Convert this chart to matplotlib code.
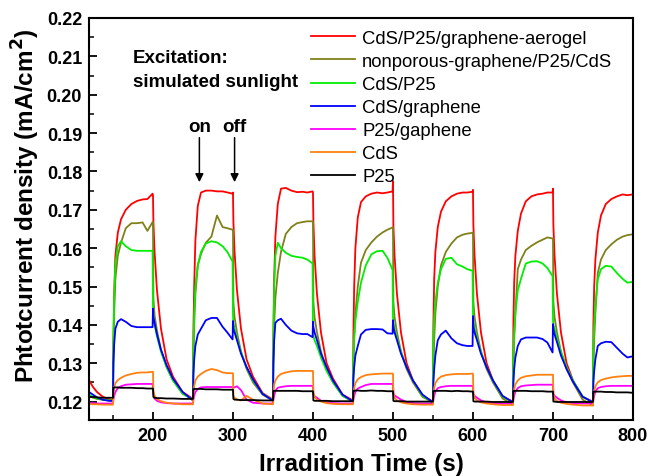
import numpy as np
import matplotlib
matplotlib.use('Agg')
import matplotlib.pyplot as plt

plt.rcParams['font.family'] = ['Liberation Sans', 'DejaVu Sans']

# light on times (s), light stays on 50 s, off 50 s
t_on = [150, 250, 350, 450, 550, 650, 750]
pre_t = [120, 125, 130, 137, 145]
on_grid = [0, 0.5, 1.5, 3, 6, 10, 16, 23, 30, 37, 43, 49.5]
off_grid = [50, 50.5, 52, 55, 60, 67, 75, 87]

labels = ['CdS/P25/graphene-aerogel', 'nonporous-graphene/P25/CdS', 'CdS/P25',
          'CdS/graphene', 'P25/gaphene', 'CdS', 'P25']
colors = ['#ff0000', '#80801a', '#00ee00', '#0000ff', '#ff00ff', '#ff8010', '#000000']

# values (mA/cm2), one row per light cycle
red_pre = [0.1256, 0.1238, 0.1225, 0.1213, 0.1206]
red = [
    [0.1203, 0.135, 0.148, 0.158, 0.164, 0.1675, 0.170, 0.1715, 0.1723, 0.1727, 0.1728, 0.1742, 0.1738, 0.167, 0.159, 0.149, 0.139, 0.131, 0.1265, 0.1225],
    [0.1207, 0.138, 0.150, 0.162, 0.171, 0.1745, 0.175, 0.175, 0.1748, 0.1748, 0.1745, 0.1742, 0.1745, 0.167, 0.159, 0.149, 0.139, 0.131, 0.1265, 0.1222],
    [0.1205, 0.138, 0.152, 0.163, 0.1715, 0.1755, 0.1757, 0.175, 0.1746, 0.1747, 0.1745, 0.1748, 0.1745, 0.167, 0.158, 0.148, 0.138, 0.130, 0.126, 0.1218],
    [0.1203, 0.137, 0.150, 0.160, 0.168, 0.172, 0.1735, 0.1742, 0.1745, 0.1743, 0.1745, 0.1748, 0.1775, 0.166, 0.158, 0.148, 0.138, 0.130, 0.1255, 0.1215],
    [0.1200, 0.140, 0.152, 0.159, 0.1655, 0.1695, 0.1722, 0.1735, 0.1742, 0.1745, 0.1745, 0.1747, 0.1752, 0.166, 0.158, 0.148, 0.138, 0.130, 0.1255, 0.1213],
    [0.1200, 0.140, 0.151, 0.158, 0.1645, 0.169, 0.1722, 0.1735, 0.174, 0.1742, 0.1745, 0.1745, 0.1755, 0.166, 0.158, 0.148, 0.138, 0.130, 0.1255, 0.1212],
    [0.1200, 0.140, 0.150, 0.157, 0.164, 0.1685, 0.1715, 0.1728, 0.1735, 0.174, 0.1738, 0.1740],
]

olive_pre = [0.1215, 0.121, 0.1207, 0.1205, 0.1203]
olive = [
    [0.1202, 0.132, 0.143, 0.152, 0.158, 0.1614, 0.1652, 0.1665, 0.1665, 0.1667, 0.1645, 0.1668, 0.1668, 0.147, 0.1425, 0.1385, 0.1335, 0.129, 0.1255, 0.1222],
    [0.1205, 0.130, 0.140, 0.148, 0.1555, 0.1585, 0.1614, 0.163, 0.1685, 0.1655, 0.1652, 0.1648, 0.1648, 0.146, 0.142, 0.138, 0.133, 0.1285, 0.125, 0.1218],
    [0.1203, 0.130, 0.140, 0.147, 0.1535, 0.159, 0.1637, 0.1655, 0.1665, 0.1668, 0.167, 0.167, 0.167, 0.146, 0.142, 0.138, 0.133, 0.1285, 0.125, 0.1215],
    [0.1200, 0.128, 0.136, 0.143, 0.150, 0.1562, 0.1595, 0.1615, 0.163, 0.1641, 0.1648, 0.1654, 0.1654, 0.146, 0.142, 0.138, 0.133, 0.1285, 0.125, 0.1212],
    [0.1198, 0.128, 0.136, 0.143, 0.150, 0.1555, 0.159, 0.1612, 0.1628, 0.1635, 0.1638, 0.164, 0.164, 0.146, 0.142, 0.138, 0.133, 0.1285, 0.125, 0.1208],
    [0.1192, 0.128, 0.136, 0.143, 0.1545, 0.157, 0.1595, 0.1606, 0.1615, 0.1622, 0.1628, 0.1625, 0.1625, 0.146, 0.142, 0.138, 0.133, 0.1285, 0.125, 0.1205],
    [0.1190, 0.128, 0.136, 0.143, 0.1535, 0.157, 0.1595, 0.161, 0.1622, 0.163, 0.1634, 0.1636],
]

green_pre = [0.1218, 0.1212, 0.1208, 0.1205, 0.1203]
green = [
    [0.1203, 0.135, 0.148, 0.156, 0.1605, 0.1618, 0.1605, 0.1595, 0.1593, 0.1593, 0.1593, 0.1593, 0.145, 0.1425, 0.140, 0.137, 0.133, 0.129, 0.1255, 0.122],
    [0.1205, 0.132, 0.143, 0.150, 0.1555, 0.159, 0.1612, 0.1618, 0.1615, 0.1605, 0.159, 0.1565, 0.1425, 0.1405, 0.139, 0.1365, 0.133, 0.129, 0.1255, 0.122],
    [0.1203, 0.136, 0.150, 0.158, 0.1614, 0.160, 0.1588, 0.158, 0.1577, 0.1575, 0.157, 0.156, 0.1375, 0.137, 0.136, 0.1345, 0.1315, 0.128, 0.125, 0.1215],
    [0.1200, 0.131, 0.137, 0.141, 0.146, 0.151, 0.1555, 0.1584, 0.1592, 0.1593, 0.1575, 0.1543, 0.142, 0.1405, 0.139, 0.1365, 0.133, 0.129, 0.1255, 0.1215],
    [0.1198, 0.136, 0.142, 0.146, 0.151, 0.1545, 0.1572, 0.1575, 0.1558, 0.1552, 0.1545, 0.1541, 0.143, 0.141, 0.139, 0.1365, 0.133, 0.129, 0.1255, 0.1213],
    [0.1198, 0.132, 0.138, 0.143, 0.149, 0.152, 0.156, 0.1565, 0.1566, 0.156, 0.1548, 0.1527, 0.1415, 0.140, 0.139, 0.1365, 0.133, 0.129, 0.1255, 0.1213],
    [0.1198, 0.134, 0.140, 0.145, 0.1519, 0.1545, 0.1554, 0.1552, 0.1535, 0.152, 0.151, 0.1512],
]

blue_pre = [0.1225, 0.1218, 0.1211, 0.1205, 0.1202]
blue = [
    [0.1202, 0.130, 0.135, 0.139, 0.1408, 0.1415, 0.1408, 0.1397, 0.1394, 0.1394, 0.1394, 0.1394, 0.1442, 0.142, 0.1405, 0.1375, 0.1335, 0.1295, 0.126, 0.1225],
    [0.1203, 0.127, 0.131, 0.1345, 0.1375, 0.139, 0.1412, 0.1418, 0.1418, 0.1395, 0.138, 0.1362, 0.141, 0.139, 0.138, 0.136, 0.1325, 0.129, 0.1258, 0.122],
    [0.1202, 0.130, 0.136, 0.1405, 0.1412, 0.1416, 0.140, 0.1385, 0.1378, 0.1376, 0.1376, 0.1368, 0.1408, 0.1395, 0.138, 0.136, 0.1325, 0.129, 0.1255, 0.1218],
    [0.1200, 0.126, 0.129, 0.132, 0.1345, 0.1375, 0.1387, 0.1389, 0.1389, 0.1388, 0.1378, 0.1377, 0.1412, 0.1395, 0.138, 0.136, 0.1325, 0.129, 0.1255, 0.1218],
    [0.1198, 0.125, 0.1285, 0.132, 0.136, 0.1375, 0.1385, 0.1365, 0.1352, 0.1347, 0.1345, 0.1345, 0.1423, 0.1395, 0.138, 0.136, 0.1325, 0.129, 0.1255, 0.1215],
    [0.1198, 0.125, 0.1285, 0.1315, 0.1345, 0.1362, 0.1367, 0.1367, 0.1367, 0.1363, 0.1354, 0.1328, 0.1402, 0.139, 0.1375, 0.1355, 0.132, 0.1285, 0.1252, 0.1213],
    [0.1198, 0.125, 0.128, 0.131, 0.1345, 0.1352, 0.1356, 0.1355, 0.134, 0.1325, 0.1315, 0.1318],
]

magenta_pre = [0.1196, 0.1196, 0.1195, 0.1195, 0.1195]
magenta = [
    [0.1195, 0.1205, 0.1215, 0.1225, 0.1235, 0.124, 0.1244, 0.1245, 0.1246, 0.1246, 0.1246, 0.1246, 0.1235, 0.122, 0.1208, 0.1202, 0.1198, 0.1196, 0.1195, 0.1195],
    [0.1195, 0.1205, 0.1215, 0.1225, 0.1233, 0.1237, 0.1238, 0.1238, 0.1238, 0.1238, 0.1238, 0.1238, 0.1238, 0.1238, 0.1237, 0.124, 0.123, 0.1205, 0.1197, 0.1195],
    [0.1195, 0.1205, 0.1215, 0.1228, 0.1236, 0.1238, 0.124, 0.1241, 0.1241, 0.1241, 0.1241, 0.1241, 0.1238, 0.122, 0.1214, 0.121, 0.1202, 0.1198, 0.1196, 0.1195],
    [0.1195, 0.1205, 0.1215, 0.1225, 0.1234, 0.1238, 0.1243, 0.1246, 0.1246, 0.1246, 0.1246, 0.1246, 0.1242, 0.1222, 0.1216, 0.1212, 0.1205, 0.1199, 0.1196, 0.1195],
    [0.1195, 0.1205, 0.1215, 0.1226, 0.1235, 0.1238, 0.124, 0.1241, 0.1241, 0.1241, 0.1241, 0.1241, 0.1238, 0.122, 0.1215, 0.121, 0.1203, 0.1198, 0.1196, 0.1195],
    [0.1195, 0.1205, 0.1215, 0.1226, 0.1235, 0.124, 0.1242, 0.1243, 0.1244, 0.1244, 0.1244, 0.1244, 0.124, 0.122, 0.1215, 0.121, 0.1203, 0.1198, 0.1196, 0.1195],
    [0.1195, 0.1205, 0.1215, 0.1226, 0.1235, 0.1238, 0.124, 0.1241, 0.1241, 0.1241, 0.1241, 0.1241],
]

orange_pre = [0.1194, 0.1193, 0.1193, 0.1192, 0.1192]
orange = [
    [0.1192, 0.122, 0.1238, 0.1248, 0.1256, 0.1262, 0.1268, 0.1272, 0.1275, 0.1276, 0.1276, 0.1278, 0.1278, 0.1228, 0.1215, 0.1207, 0.1201, 0.1197, 0.1195, 0.1193],
    [0.1193, 0.122, 0.124, 0.1255, 0.1265, 0.1272, 0.128, 0.1285, 0.1282, 0.1276, 0.1274, 0.1274, 0.1274, 0.1215, 0.121, 0.1205, 0.1203, 0.1215, 0.1205, 0.1195],
    [0.1193, 0.122, 0.1245, 0.1255, 0.1265, 0.1272, 0.1276, 0.1279, 0.128, 0.128, 0.128, 0.128, 0.128, 0.1225, 0.1212, 0.1205, 0.12, 0.1196, 0.1194, 0.1193],
    [0.1193, 0.1215, 0.1235, 0.1248, 0.1258, 0.1264, 0.1269, 0.1271, 0.1272, 0.1273, 0.1273, 0.1273, 0.1273, 0.1222, 0.121, 0.1203, 0.1198, 0.1195, 0.1193, 0.1192],
    [0.1192, 0.1215, 0.1235, 0.1248, 0.1258, 0.1265, 0.1269, 0.1271, 0.1272, 0.1272, 0.1272, 0.1273, 0.1273, 0.1222, 0.121, 0.1203, 0.1198, 0.1195, 0.1193, 0.1191],
    [0.1191, 0.1215, 0.1233, 0.1245, 0.1255, 0.1262, 0.1266, 0.1268, 0.127, 0.127, 0.127, 0.127, 0.127, 0.122, 0.1208, 0.1202, 0.1197, 0.1194, 0.1192, 0.119],
    [0.119, 0.121, 0.1228, 0.124, 0.125, 0.1256, 0.126, 0.1263, 0.1265, 0.1266, 0.1267, 0.1267],
]

black_pre = [0.1212, 0.1212, 0.1211, 0.121, 0.121]
black = [
    [0.121, 0.1236, 0.1237, 0.1237, 0.1237, 0.1236, 0.1236, 0.1236, 0.1235, 0.1235, 0.1234, 0.1234, 0.1234, 0.1212, 0.121, 0.1209, 0.1209, 0.1208, 0.1208, 0.1207],
    [0.1207, 0.1232, 0.1233, 0.1233, 0.1233, 0.1233, 0.1232, 0.1232, 0.1232, 0.1231, 0.1231, 0.1231, 0.1231, 0.1207, 0.1205, 0.1205, 0.1204, 0.1204, 0.1204, 0.1203],
    [0.1203, 0.1228, 0.1228, 0.1228, 0.1228, 0.1228, 0.1228, 0.1228, 0.1228, 0.1227, 0.1227, 0.1227, 0.1227, 0.1203, 0.1202, 0.1202, 0.1202, 0.1202, 0.1201, 0.1201],
    [0.1201, 0.1228, 0.1228, 0.1229, 0.1229, 0.1228, 0.1228, 0.1229, 0.1228, 0.1228, 0.1227, 0.1227, 0.1227, 0.1202, 0.1201, 0.1201, 0.1201, 0.12, 0.12, 0.12],
    [0.12, 0.1227, 0.1228, 0.1228, 0.1228, 0.1228, 0.1228, 0.1227, 0.1228, 0.1227, 0.1227, 0.1226, 0.1226, 0.1201, 0.12, 0.12, 0.12, 0.12, 0.1199, 0.1199],
    [0.1199, 0.1227, 0.1228, 0.1228, 0.1228, 0.1228, 0.1228, 0.1227, 0.1227, 0.1227, 0.1226, 0.1226, 0.1226, 0.12, 0.12, 0.1199, 0.1199, 0.1199, 0.1199, 0.1199],
    [0.1199, 0.1225, 0.1226, 0.1226, 0.1226, 0.1226, 0.1225, 0.1225, 0.1224, 0.1224, 0.1224, 0.1223],
]


def build(pre, rows):
    t = list(pre_t)
    v = list(pre)
    for T, row in zip(t_on, rows):
        grid = on_grid + off_grid
        t += [T + d for d in grid[:len(row)]]
        v += row
    return np.array(t), np.array(v)


series = [(red_pre, red), (olive_pre, olive), (green_pre, green), (blue_pre, blue),
          (magenta_pre, magenta), (orange_pre, orange), (black_pre, black)]

fig = plt.figure(figsize=(6.5, 4.77), dpi=100)
ax = fig.add_axes([0.1369, 0.1174, 0.8369, 0.8428])

for (pre, rows), c, lab in zip(series, colors, labels):
    t, v = build(pre, rows)
    ax.plot(t, v, color=c, lw=1.3, label=lab)

ax.set_xlim(120, 800)
ax.set_ylim(0.1152, 0.22)
ax.set_xticks(np.arange(200, 801, 100))
ax.set_xticks(np.arange(150, 801, 50), minor=True)
ax.set_yticks(np.arange(0.12, 0.2201, 0.01))
ax.set_yticks(np.arange(0.12, 0.2201, 0.005), minor=True)
ax.yaxis.set_major_formatter(matplotlib.ticker.FormatStrFormatter('%.2f'))
ax.tick_params(which='major', direction='in', length=6, width=1.3, labelsize=13, pad=5)
ax.tick_params(which='minor', direction='in', length=3.5, width=1.1)
for lb in ax.get_xticklabels() + ax.get_yticklabels():
    lb.set_fontweight('bold')
for s in ax.spines.values():
    s.set_linewidth(1.5)

ax.set_xlabel('Irradition Time (s)', fontsize=17.5, fontweight='bold', labelpad=6)
ax.set_ylabel('Phtotcurrent density (mA/cm$^\\mathbf{2}$)', fontsize=17.5, fontweight='bold')
ax.yaxis.set_label_coords(-0.087, 0.535)

ax.text(174.5, 0.2097, 'Excitation:', fontsize=13.5, fontweight='bold', va='center')
ax.text(174.5, 0.2035, 'simulated sunlight', fontsize=13.5, fontweight='bold', va='center')
ax.text(258, 0.1917, 'on', fontsize=13.5, fontweight='bold', ha='center', va='center')
ax.text(302, 0.1917, 'off', fontsize=13.5, fontweight='bold', ha='center', va='center')
for xa in [258, 302]:
    ax.annotate('', xy=(xa, 0.1772), xytext=(xa, 0.1888),
                arrowprops=dict(arrowstyle='-|>', color='black', lw=1.1,
                                mutation_scale=12, shrinkA=0, shrinkB=0))

ax.legend(loc='upper left', bbox_to_anchor=(0.409, 0.9705), frameon=False, fontsize=13.3,
          handlelength=2.35, handletextpad=0.4, labelspacing=0.33, borderpad=0, borderaxespad=0)

fig.savefig('out.png', dpi=100)
